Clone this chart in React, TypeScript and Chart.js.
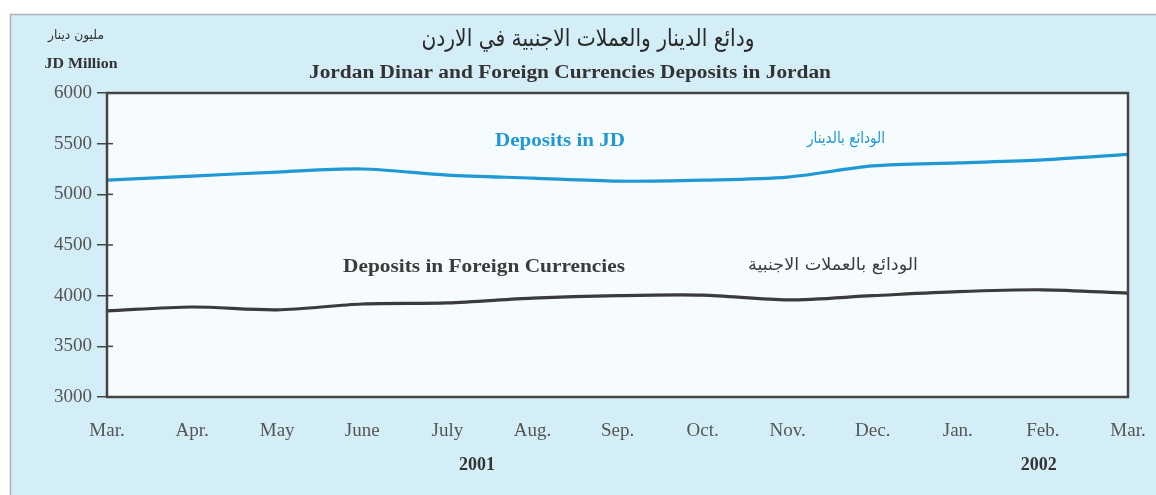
import React, { useEffect, useRef } from "react";
import { Chart, registerables } from "chart.js";

Chart.register(...registerables);

const months = ["Mar.", "Apr.", "May", "June", "July", "Aug.", "Sep.", "Oct.", "Nov.", "Dec.", "Jan.", "Feb.", "Mar."];
const jdDeposits = [5140, 5180, 5220, 5250, 5190, 5160, 5130, 5140, 5170, 5280, 5310, 5340, 5395];
const fcDeposits = [3850, 3888, 3860, 3918, 3928, 3975, 4000, 4005, 3958, 4000, 4040, 4058, 4025];
const yearLabels = ["2001", "2002"];
const yearIndex = [4.35, 10.95];

const titleAr = "ودائع الدينار والعملات الاجنبية في الاردن";
const titleEn = "Jordan Dinar and Foreign Currencies Deposits in Jordan";
const unitAr = "مليون دينار";
const unitEn = "JD Million";
const jdLabelEn = "Deposits in JD";
const jdLabelAr = "الودائع بالدينار";
const fcLabelEn = "Deposits in Foreign Currencies";
const fcLabelAr = "الودائع بالعملات الاجنبية";

const SERIF = "'Liberation Serif', 'Times New Roman', serif";
const ARABIC = "'DejaVu Sans', sans-serif";
const BLUE = "#1f98d6";
const DARK = "#3b3b3b";

// draw text at a given font size, squeezed/stretched horizontally to a target width
function drawFit(ctx: CanvasRenderingContext2D, text: string, x: number, y: number, width: number, size: number, weight: string, family: string, color: string) {
  ctx.save();
  ctx.font = `${weight} ${size}px ${family}`;
  const w = ctx.measureText(text).width;
  const sx = width / w;
  ctx.fillStyle = color;
  ctx.textAlign = "center";
  ctx.textBaseline = "middle";
  ctx.translate(x, y);
  ctx.scale(sx, 1);
  ctx.fillText(text, 0, 0);
  ctx.restore();
}

const decorPlugin = {
  id: "decor",
  beforeDraw(chart: any) {
    const { ctx, chartArea: a } = chart;
    ctx.save();
    ctx.fillStyle = "#ffffff";
    ctx.fillRect(0, 0, chart.width, chart.height);
    ctx.fillStyle = "#d4eef8";
    ctx.fillRect(10, 14, chart.width - 10, chart.height - 14);
    ctx.strokeStyle = "#a9b4b9";
    ctx.lineWidth = 1.5;
    ctx.beginPath();
    ctx.moveTo(10.5, chart.height);
    ctx.lineTo(10.5, 14.5);
    ctx.lineTo(chart.width, 14.5);
    ctx.stroke();
    ctx.fillStyle = "#f6fbfd";
    ctx.fillRect(a.left, a.top, a.right - a.left, a.bottom - a.top);
    ctx.restore();
  },
  afterDatasetsDraw(chart: any) {
    const { ctx, chartArea: a, scales } = chart;
    ctx.save();
    ctx.strokeStyle = "#454545";
    ctx.lineWidth = 2.5;
    ctx.strokeRect(a.left, a.top, a.right - a.left, a.bottom - a.top);
    ctx.lineWidth = 1.5;
    const y = scales.y;
    y.ticks.forEach((t: any) => {
      const py = y.getPixelForValue(t.value);
      ctx.beginPath();
      ctx.moveTo(a.left, py);
      ctx.lineTo(a.left + 6, py);
      ctx.stroke();
    });
    ctx.restore();

    drawFit(ctx, titleAr, 588, 40, 333, 24, "normal", ARABIC, "#2a2a2a");
    drawFit(ctx, titleEn, 570, 73, 522, 18, "bold", SERIF, "#333333");
    drawFit(ctx, unitAr, 76, 36, 56, 13, "normal", ARABIC, "#333333");
    drawFit(ctx, unitEn, 81, 64, 73, 14.5, "bold", SERIF, "#333333");

    drawFit(ctx, jdLabelEn, 560, 141, 130, 18, "bold", SERIF, BLUE);
    drawFit(ctx, jdLabelAr, 846, 139, 78, 16, "normal", ARABIC, BLUE);
    drawFit(ctx, fcLabelEn, 484, 267, 282, 18, "bold", SERIF, DARK);
    drawFit(ctx, fcLabelAr, 833, 266, 170, 17, "normal", ARABIC, DARK);

    const x = scales.x;
    ctx.save();
    ctx.font = `bold 18px ${SERIF}`;
    ctx.fillStyle = "#333333";
    ctx.textAlign = "center";
    ctx.textBaseline = "middle";
    yearLabels.forEach((lbl, i) => {
      ctx.fillText(lbl, x.getPixelForValue(yearIndex[i]), 465);
    });
    ctx.restore();
  },
};

export default function App() {
  const ref = useRef<HTMLCanvasElement | null>(null);
  useEffect(() => {
    if (!ref.current) return;
    const chart = new Chart(ref.current, {
      type: "line",
      data: {
        labels: months,
        datasets: [
          {
            label: "Deposits in JD",
            data: jdDeposits,
            borderColor: BLUE,
            borderWidth: 3.2,
            pointRadius: 0,
            tension: 0.3,
            fill: false,
          },
          {
            label: "Deposits in Foreign Currencies",
            data: fcDeposits,
            borderColor: DARK,
            borderWidth: 3.2,
            pointRadius: 0,
            tension: 0.3,
            fill: false,
          },
        ],
      },
      options: {
        animation: false,
        responsive: false,
        maintainAspectRatio: false,
        layout: { padding: { left: 0, top: 93, right: 28, bottom: 0 } },
        plugins: {
          legend: { display: false },
          tooltip: { enabled: false },
          title: { display: false },
        },
        scales: {
          x: {
            offset: false,
            grid: { display: false, drawTicks: false },
            border: { display: false },
            ticks: {
              color: "#555555",
              font: { family: SERIF, size: 19 },
              padding: 23,
              maxRotation: 0,
              autoSkip: false,
            },
            afterFit(scale: any) {
              scale.height = 98;
              scale.paddingLeft = 0;
              scale.paddingRight = 0;
            },
          },
          y: {
            min: 3000,
            max: 6000,
            ticks: {
              stepSize: 500,
              color: "#555555",
              font: { family: SERIF, size: 19 },
              padding: 5,
              callback: (v: any) => String(v),
            },
            grid: {
              drawOnChartArea: false,
              drawTicks: true,
              tickLength: 10,
              color: "#454545",
              lineWidth: 1.5,
            },
            border: { display: false },
            afterFit(scale: any) {
              scale.width = 107;
              scale.paddingTop = 0;
              scale.paddingBottom = 0;
            },
          },
        },
      },
      plugins: [decorPlugin],
    });
    return () => chart.destroy();
  }, []);
  return (
    <div style={{ position: "absolute", left: 0, top: 0, width: 1156, height: 495 }}>
      <canvas ref={ref} width={1156} height={495} style={{ width: 1156, height: 495, display: "block" }} />
    </div>
  );
}
